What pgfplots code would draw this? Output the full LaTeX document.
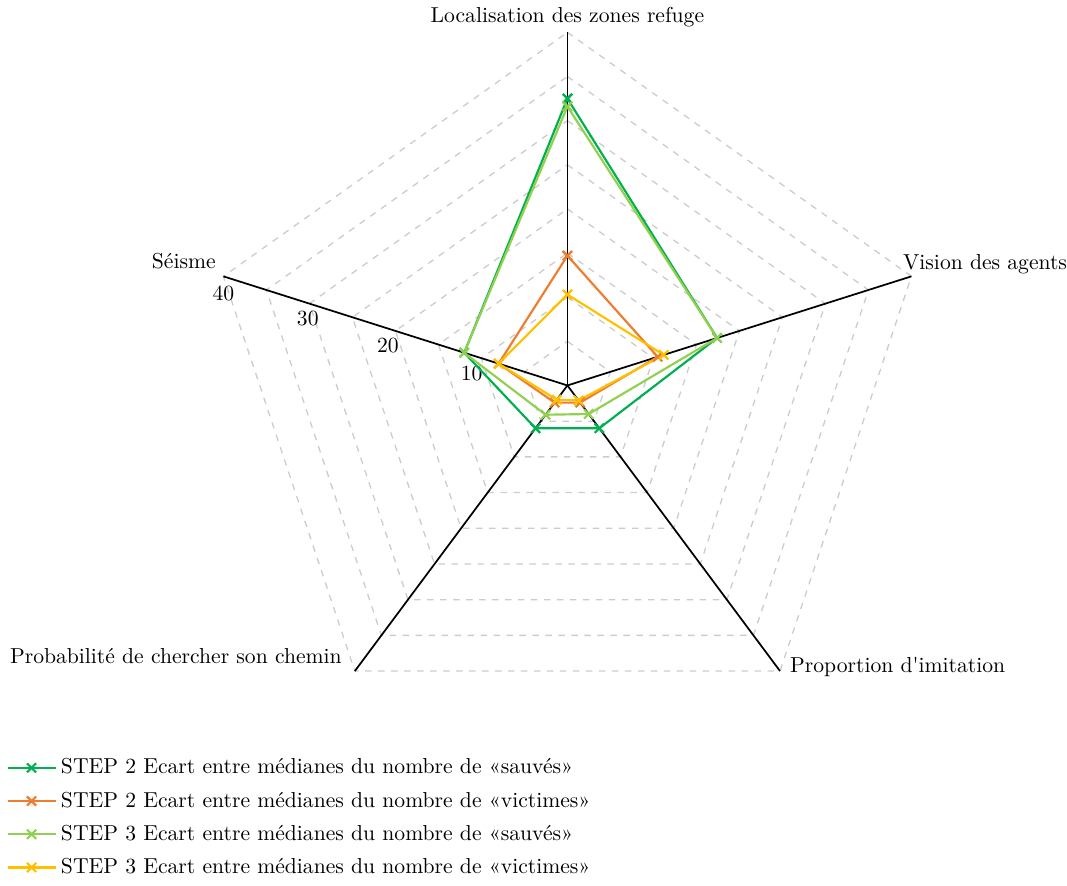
\documentclass[border=0pt]{standalone}
\usepackage{pgfplots}
\pgfplotsset{compat=1.18}
\definecolor{cA}{RGB}{0,176,80}
\definecolor{cB}{RGB}{237,125,49}
\definecolor{cC}{RGB}{146,208,80}
\definecolor{cD}{RGB}{255,192,0}
\definecolor{gridc}{RGB}{204,204,204}
\begin{document}
\begin{tikzpicture}
\begin{axis}[
  x=4.18pt, y=4.08pt,
  hide axis,
  xmin=-38.04, xmax=38.04, ymin=-32.36, ymax=40,
  clip=false,
  legend cell align=left,
  legend style={at={(-0.3254,-0.1228)}, anchor=north west, draw=none, fill=none, row sep=2.8pt,
    nodes={inner xsep=2pt}},
  legend image code/.code={\draw[mark repeat=2,mark phase=2] plot coordinates {(0cm,0cm) (0.39cm,0cm) (0.78cm,0cm)};},
  every axis plot/.append style={line width=1pt, mark=x, mark size=3pt, mark options={solid}},
]
% grid pentagons
\pgfplotsinvokeforeach{5,10,15,20,25,30,35,40}{
  \draw[gridc, dashed, line width=0.6pt]
    (axis cs:{#1*cos(90)},{#1*sin(90)}) --
    (axis cs:{#1*cos(18)},{#1*sin(18)}) --
    (axis cs:{#1*cos(306)},{#1*sin(306)}) --
    (axis cs:{#1*cos(234)},{#1*sin(234)}) --
    (axis cs:{#1*cos(162)},{#1*sin(162)}) -- cycle;
}
% spokes
\pgfplotsinvokeforeach{90,18,306,234,162}{
  \draw[black, line width=0.8pt] (axis cs:0,0) -- (axis cs:{40*cos(#1)},{40*sin(#1)});
}
% labels
\node[anchor=south, yshift=-1pt] at (axis cs:0,40) {Localisation des zones refuge};
\node[anchor=base west, inner sep=0pt, xshift=-4pt, yshift=3pt] at (axis cs:{40*cos(18)},{40*sin(18)}) {Vision des agents};
\node[anchor=base west, inner sep=0pt, xshift=4.5pt, yshift=-0.5pt] at (axis cs:{40*cos(306)},{40*sin(306)}) {Proportion d\textquotesingle imitation};
\node[anchor=south east, xshift=-2.5pt] at (axis cs:{40*cos(234)},{40*sin(234)}) {Probabilité de chercher son chemin};
\node[anchor=south east] at (axis cs:{40*cos(162)},{40*sin(162)}) {Séisme};
% tick labels
\node[anchor=north, xshift=-4.5pt] at (axis cs:{10*cos(162)},{10*sin(162)}) {10};
\node[anchor=north, xshift=-3.5pt] at (axis cs:{20*cos(162)},{20*sin(162)}) {20};
\node[anchor=north, xshift=-0.75pt] at (axis cs:{30*cos(162)},{30*sin(162)}) {30};
\node[anchor=north, yshift=-0.7pt] at (axis cs:{40*cos(162)},{40*sin(162)}) {40};

\addplot[cA] table[x expr={\thisrow{r}*cos(\thisrow{a})}, y expr={\thisrow{r}*sin(\thisrow{a})}] {
a r
90 32.5
18 17.4
306 6.0
234 6.0
162 12.0
90 32.5
};
\addlegendentry{STEP 2 Ecart entre médianes du nombre de «sauvés»}
\addplot[cB] table[x expr={\thisrow{r}*cos(\thisrow{a})}, y expr={\thisrow{r}*sin(\thisrow{a})}] {
a r
90 14.7
18 10.5
306 2.4
234 2.4
162 8.0
90 14.7
};
\addlegendentry{STEP 2 Ecart entre médianes du nombre de «victimes»}
\addplot[cC] table[x expr={\thisrow{r}*cos(\thisrow{a})}, y expr={\thisrow{r}*sin(\thisrow{a})}] {
a r
90 31.6
18 17.4
306 4.0
234 4.1
162 12.0
90 31.6
};
\addlegendentry{STEP 3 Ecart entre médianes du nombre de «sauvés»}
\addplot[cD] table[x expr={\thisrow{r}*cos(\thisrow{a})}, y expr={\thisrow{r}*sin(\thisrow{a})}] {
a r
90 10.3
18 11.2
306 2.1
234 2.0
162 8.0
90 10.3
};
\addlegendentry{STEP 3 Ecart entre médianes du nombre de «victimes»}
\end{axis}
\end{tikzpicture}
\end{document}
